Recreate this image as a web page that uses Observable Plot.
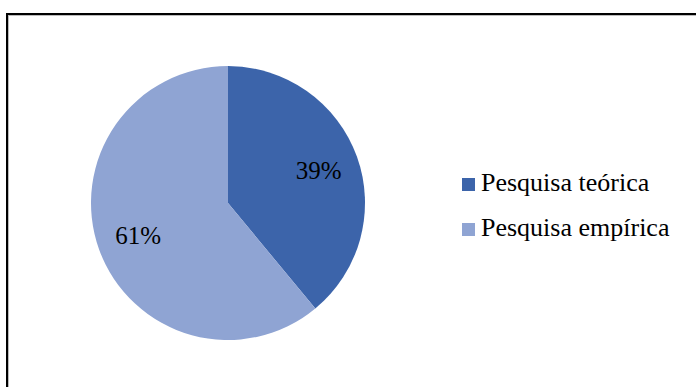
<!DOCTYPE html>
<html>
<head>
<meta charset="utf-8">
<script src="https://cdn.jsdelivr.net/npm/d3@7"></script>
<script src="https://cdn.jsdelivr.net/npm/@observablehq/plot@0.6"></script>
<style>
  html, body { margin: 0; padding: 0; background: #fff; }
  body { width: 696px; height: 387px; position: relative; overflow: hidden; font-family: "Liberation Serif", "Times New Roman", serif; }
  #frame { position: absolute; left: 6px; top: 13px; width: 720px; height: 420px; border: 2px solid #000; box-sizing: border-box; box-shadow: inset 1px 1px 0 #bbb; }
  #chart { position: absolute; left: 0; top: 0; }
  #legend { position: absolute; left: 462px; top: 160px; }
  .item { display: flex; align-items: center; height: 45px; line-height: 45px; font-size: 26px; color: #000; white-space: nowrap; }
  .sw { width: 13px; height: 13px; margin-right: 6px; margin-top: 3px; }
</style>
</head>
<body>
<div id="frame"></div>
<div id="chart"></div>
<div id="legend"></div>
<script>
const categories = ["Pesquisa teórica", "Pesquisa empírica"];
const values = [39, 61];
const labels = ["39%", "61%"];
const colors = ["#3c64aa", "#8fa4d3"];

const data = categories.map((c, i) => ({category: c, value: values[i], label: labels[i], color: colors[i]}));
const arcs = d3.pie().sort(null).value(d => d.value)(data);
const labelR = 0.7;
const labelData = arcs.map(a => {
  const m = (a.startAngle + a.endAngle) / 2;
  return {label: a.data.label, x: labelR * Math.sin(m), y: labelR * Math.cos(m)};
});

function pieMark(index, scales) {
  const cx = scales.x(0), cy = scales.y(0);
  const r = Math.abs(scales.x(1) - scales.x(0));
  const arc = d3.arc().innerRadius(0).outerRadius(r);
  const g = d3.create("svg:g").attr("transform", `translate(${cx},${cy})`);
  g.selectAll("path").data(arcs).join("path")
    .attr("d", arc)
    .attr("fill", d => d.data.color);
  return g.node();
}

const plot = Plot.plot({
  width: 696,
  height: 387,
  margin: 0,
  x: {domain: [-1, 1], range: [91, 365], axis: null},
  y: {domain: [-1, 1], range: [340, 66], axis: null},
  style: {background: "transparent", fontFamily: "'Liberation Serif', 'Times New Roman', serif"},
  marks: [
    pieMark,
    Plot.text(labelData, {x: "x", y: "y", text: "label", fontSize: 25, fill: "#000"})
  ]
});
document.getElementById("chart").appendChild(plot);

const legend = document.getElementById("legend");
data.forEach(d => {
  const item = document.createElement("div");
  item.className = "item";
  const sw = document.createElement("div");
  sw.className = "sw";
  sw.style.background = d.color;
  const t = document.createElement("span");
  t.textContent = d.category;
  item.appendChild(sw);
  item.appendChild(t);
  legend.appendChild(item);
});
</script>
</body>
</html>
